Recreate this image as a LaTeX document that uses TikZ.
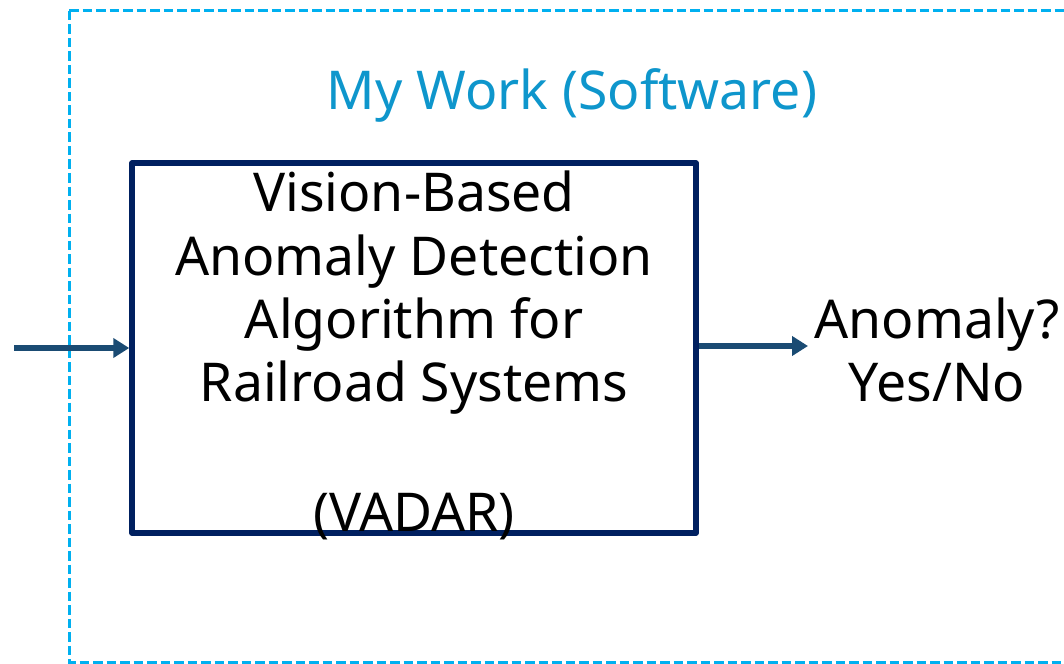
\documentclass[tikz,border=0pt]{standalone}
\usepackage{fontspec}
\setmainfont{Noto Sans}
\usetikzlibrary{arrows.meta}
\definecolor{frameblue}{HTML}{00B0F0}
\definecolor{titleblue}{HTML}{0E96CC}
\definecolor{boxnavy}{HTML}{002060}
\definecolor{arrowblue}{HTML}{1A4B73}
\tikzset{
  x=1pt, y=-1pt,
  frame/.style={draw=frameblue, line width=3pt, dash pattern=on 9.5pt off 4pt},
  mainbox/.style={draw=boxnavy, line width=5.5pt, line join=round, minimum width=564pt, minimum height=370pt, inner sep=0pt},
  bigtext/.style={font=\fontsize{53.5}{64}\selectfont, align=center, inner sep=0pt},
  flow/.style={draw=arrowblue, line width=5.5pt, -{Triangle[length=16pt,width=19pt]}}
}
\begin{document}
\begin{tikzpicture}
\useasboundingbox (0,0) rectangle (1064,663);
\begin{scope}
\clip (0,0) rectangle (1064,663);
\draw[frame] (69,11) -- (1080,11);
\draw[frame] (69,11) -- (69,662) -- (1080,662);
\end{scope}
\node[bigtext, text=titleblue, anchor=base] (title) at (572,110) {My Work (Software)};
\node[mainbox] (box) at (414,348) {};
\node[bigtext, anchor=base] (l1) at (414,211) {Vision-Based};
\node[bigtext, anchor=base] (l2) at (414,275) {Anomaly Detection};
\node[bigtext, anchor=base] (l3) at (414,338) {Algorithm for};
\node[bigtext, anchor=base] (l4) at (414,401) {Railroad Systems};
\node[bigtext, anchor=base] (l5) at (414,531) {(VADAR)};
\node[bigtext, anchor=base] (out1) at (937,338) {Anomaly?};
\node[bigtext, anchor=base] (out2) at (937,401) {Yes/No};
\coordinate (in) at (14,348);
\coordinate (outpt) at (808,346);
\draw[flow] (in) -- (box.west |- in);
\draw[flow] (box.east |- outpt) -- (outpt);
\end{tikzpicture}
\end{document}
